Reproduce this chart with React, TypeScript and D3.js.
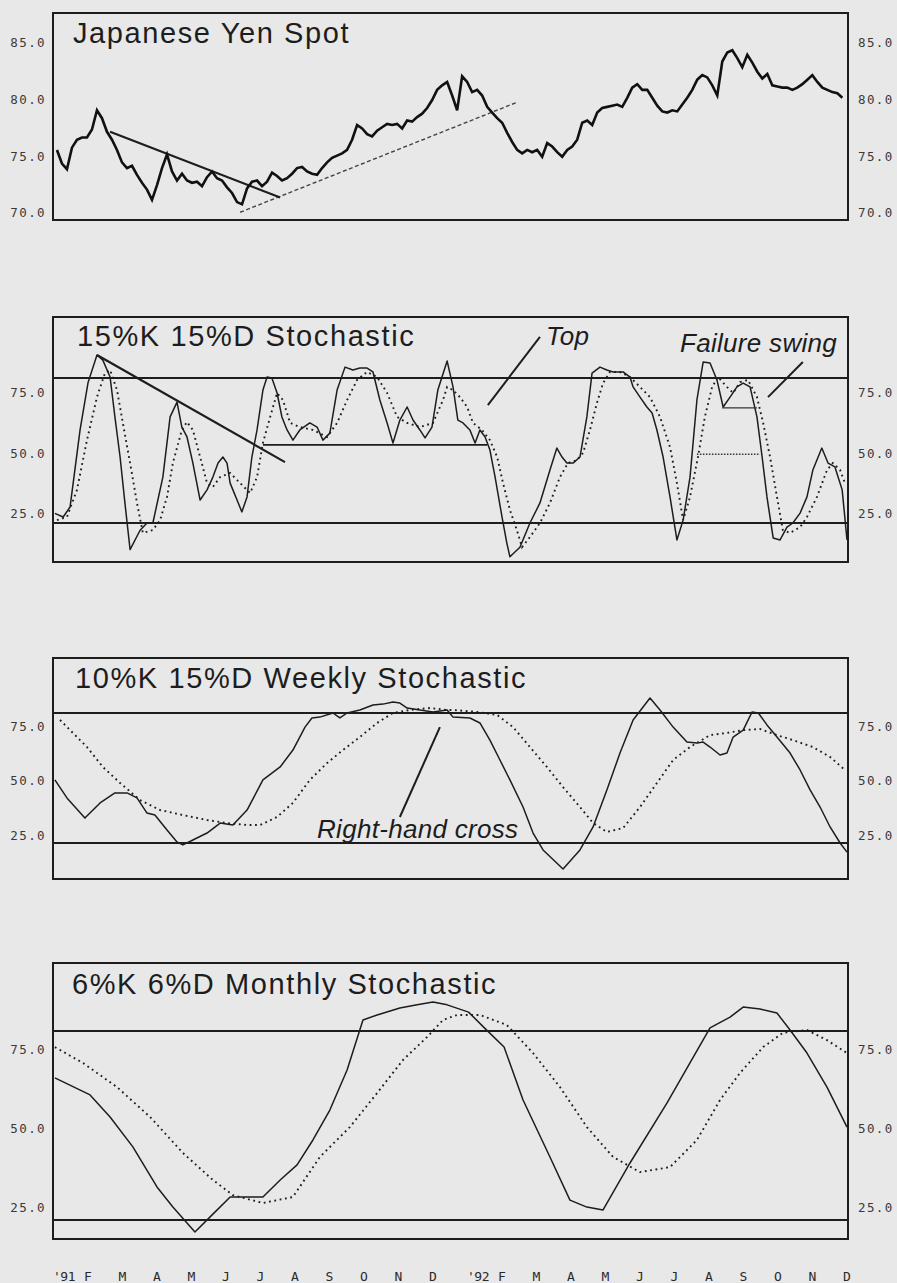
import React from 'react';
import * as d3 from 'd3';

// ---------- data ----------
const monthLabels = ["'91", 'F', 'M', 'A', 'M', 'J', 'J', 'A', 'S', 'O', 'N', 'D', "'92", 'F', 'M', 'A', 'M', 'J', 'J', 'A', 'S', 'O', 'N', 'D'];

const yenTicks = [85, 80, 75, 70];
const stochTicks = [75, 50, 25];
const stochBands = [80, 20];

// Japanese Yen spot (month index of first value and step in months)
const yenFirstMonth = 0.1;
const yenStepMonths = 0.145;
const yenClose = [
  75.3, 74.1, 73.6, 75.5, 76.2, 76.4, 76.4, 77.1, 78.8, 78.1, 76.9, 76.2, 75.3, 74.2, 73.7, 73.9, 73.1, 72.4,
  71.8, 70.9, 72.2, 73.7, 74.9, 73.4, 72.6, 73.2, 72.6, 72.4, 72.5, 72.1, 72.9, 73.4, 72.8, 72.6, 72.0, 71.5,
  70.7, 70.5, 71.9, 72.5, 72.6, 72.1, 72.5, 73.3, 73.0, 72.6, 72.8, 73.2, 73.7, 73.8, 73.4, 73.2, 73.1, 73.7,
  74.2, 74.6, 74.8, 75.0, 75.3, 76.2, 77.5, 77.2, 76.7, 76.5, 77.0, 77.3, 77.6, 77.5, 77.6, 77.2, 77.9, 77.8,
  78.2, 78.5, 79.0, 79.7, 80.6, 81.0, 81.3, 80.1, 78.8, 81.8, 81.3, 80.4, 80.6, 80.1, 79.1, 78.6, 78.1, 77.7,
  76.8, 76.0, 75.3, 75.0, 75.3, 75.1, 75.3, 74.7, 75.9, 75.6, 75.1, 74.7, 75.3, 75.6, 76.2, 77.7, 77.9, 77.5,
  78.6, 79.0, 79.1, 79.2, 79.3, 79.1, 79.9, 80.8, 81.1, 80.6, 80.6, 79.9, 79.2, 78.7, 78.6, 78.8, 78.7, 79.3,
  79.9, 80.6, 81.5, 81.9, 81.7, 81.0, 80.1, 83.1, 83.9, 84.1, 83.4, 82.6, 83.7, 83.0, 82.2, 81.6, 82.0, 81.0,
  80.9, 80.8, 80.8, 80.6, 80.8, 81.1, 81.5, 81.9, 81.3, 80.8, 80.6, 80.4, 80.3, 79.9,
];
// trend lines on yen: [month, value]
const yenDownTrend = [[1.64, 76.9], [6.57, 71.1]];
const yenUpTrend = [[5.41, 69.8], [13.43, 79.5]];

// 15%K 15%D daily stochastic
const dailyKAt = [0.04, 0.28, 0.48, 0.77, 1.0, 1.26, 1.43, 1.64, 1.78, 1.93, 2.07, 2.22, 2.51, 2.71, 2.88, 3.17, 3.38, 3.58, 3.72, 3.87, 4.04, 4.25, 4.45, 4.62, 4.77, 4.91, 5.03, 5.12, 5.2, 5.32, 5.46, 5.61, 5.75, 5.9, 6.07, 6.19, 6.33, 6.48, 6.62, 6.77, 6.94, 7.14, 7.43, 7.64, 7.81, 8.01, 8.22, 8.45, 8.68, 8.88, 9.09, 9.26, 9.46, 9.67, 9.84, 10.04, 10.25, 10.42, 10.62, 10.77, 10.97, 11.14, 11.41, 11.58, 11.72, 11.87, 12.07, 12.22, 12.36, 12.51, 12.65, 12.8, 13.0, 13.14, 13.23, 13.52, 13.81, 14.1, 14.39, 14.59, 14.74, 14.88, 15.06, 15.26, 15.46, 15.61, 15.84, 16.04, 16.22, 16.51, 16.71, 16.8, 17.0, 17.2, 17.35, 17.49, 17.67, 17.87, 18.07, 18.25, 18.45, 18.65, 18.83, 19.03, 19.23, 19.41, 19.61, 19.81, 19.99, 20.19, 20.39, 20.54, 20.68, 20.86, 21.06, 21.26, 21.43, 21.64, 21.84, 22.01, 22.27, 22.45, 22.65, 22.86, 23.0];
const dailyK = [24, 22.5, 26.6, 58.5, 78, 89.5, 87.4, 80.4, 63.9, 47.3, 28.3, 9, 17, 20, 20, 39, 63.9, 70, 59.7, 55.6, 44.8, 29.5, 33.7, 39, 44.8, 47.3, 44.8, 36.5, 33.7, 29.5, 24.6, 30.8, 47.3, 58.5, 75, 80.4, 80, 73.8, 63.9, 58.5, 54.3, 58.5, 61.4, 59.7, 54.3, 57.2, 75, 84.5, 83.3, 84.1, 84.1, 82.5, 70.9, 61.4, 53.1, 62.6, 68, 62.6, 58.5, 55.2, 59.7, 75, 87, 76.3, 62.6, 61.4, 58.5, 53.1, 58.5, 55.6, 50.2, 39, 22.5, 11.7, 6, 10, 20, 28.3, 41.9, 51, 47.3, 44.8, 44.8, 47.3, 63.9, 82, 84.5, 83.3, 82.5, 82.5, 80.4, 76.3, 72.1, 68, 65.5, 58.5, 47.3, 30.8, 13, 21.2, 39, 70.9, 86.6, 86.2, 79.2, 68, 72.1, 76.3, 77.9, 76.3, 63.9, 47.3, 30.8, 13.8, 13, 18.3, 20, 24.1, 30.8, 41.9, 51, 44.8, 43.2, 33.7, 13];
const dailyDAt = [0.1, 0.39, 0.68, 0.97, 1.26, 1.49, 1.64, 1.84, 2.01, 2.22, 2.42, 2.59, 2.88, 3.09, 3.29, 3.46, 3.72, 3.87, 4.04, 4.25, 4.45, 4.62, 4.83, 5.12, 5.41, 5.7, 5.9, 6.07, 6.28, 6.48, 6.65, 6.86, 7.14, 7.52, 7.93, 8.22, 8.51, 8.8, 9.09, 9.38, 9.67, 9.96, 10.25, 10.62, 11.0, 11.29, 11.41, 11.58, 11.78, 11.99, 12.16, 12.42, 12.65, 12.86, 13.03, 13.23, 13.43, 13.58, 13.81, 14.1, 14.39, 14.68, 14.91, 15.17, 15.35, 15.55, 15.75, 15.93, 16.13, 16.42, 16.71, 17.0, 17.29, 17.58, 17.87, 18.07, 18.25, 18.45, 18.68, 18.88, 19.09, 19.26, 19.52, 19.7, 19.9, 20.13, 20.39, 20.57, 20.77, 20.97, 21.14, 21.35, 21.64, 21.84, 22.13, 22.42, 22.59, 22.8, 22.94];
const dailyD = [21.2, 22.5, 33.7, 54.3, 72.1, 82, 83.3, 75, 61.4, 44.8, 28.3, 15.9, 17.1, 21.2, 30.8, 44.8, 58.5, 61.8, 58.5, 47.3, 36.5, 34.9, 39, 40.7, 36.5, 32.4, 39, 53.1, 63.9, 73.8, 70.9, 61.4, 59.7, 58.5, 55.6, 61.4, 70.9, 79.2, 82.5, 80.4, 73.8, 63.9, 61.4, 59.7, 61.4, 70.9, 76.3, 75, 72.1, 68, 61.4, 58.5, 54.3, 47.3, 36.5, 25.4, 17.1, 10, 14.2, 20, 28.3, 39, 44.8, 46, 49, 58.5, 69.6, 77.9, 82.5, 82.5, 80.4, 76.3, 72.1, 63.9, 51.4, 36.5, 21.2, 30.8, 47.3, 63.9, 76.3, 80.4, 76.3, 73.8, 78.3, 79.2, 72.1, 61.4, 47.3, 30.8, 17.1, 15.9, 18.3, 22.5, 30.8, 41.9, 44.8, 41.9, 36.5];
// annotation lines on daily stochastic: [month, value]
const dailyTrend = [[1.26, 89.5], [6.71, 45.2]];
const dailySupport = [[6.07, 52.3], [12.57, 52.3]];
const failureLow = [[19.38, 67.6], [20.39, 67.6]];
const failureD = [[18.65, 48.5], [20.48, 48.5]];
const topPointer = [[14.1, 97], [12.59, 68.8]];
const failurePointer = [[21.72, 86.6], [20.71, 72.1]];

// 10%K 15%D weekly stochastic
const weeklyKAt = [0.04, 0.39, 0.91, 1.35, 1.78, 2.13, 2.42, 2.71, 2.94, 3.29, 3.58, 3.75, 4.04, 4.45, 4.83, 5.2, 5.61, 6.07, 6.57, 6.94, 7.29, 7.49, 7.72, 8.1, 8.3, 8.51, 8.88, 9.26, 9.55, 9.84, 10.04, 10.25, 10.62, 11.0, 11.41, 11.58, 12.07, 12.36, 12.65, 12.94, 13.23, 13.61, 13.9, 14.19, 14.77, 15.26, 15.64, 16.04, 16.42, 16.8, 17.29, 17.58, 17.96, 18.36, 18.65, 18.83, 19.03, 19.32, 19.52, 19.7, 19.99, 20.25, 20.43, 20.68, 20.97, 21.35, 21.64, 21.93, 22.22, 22.51, 22.8, 23.0];
const weeklyK = [49.1, 40.8, 31.5, 38.5, 43.1, 43.1, 40.8, 33.8, 32.9, 26, 20.5, 19.1, 21.4, 24.6, 29.2, 28.3, 35.2, 49.1, 55.1, 62.9, 73.5, 77.7, 78.1, 80, 77.7, 80, 81.4, 83.7, 84.1, 85.1, 84.6, 82.3, 81.4, 80.5, 81.4, 78.1, 77.7, 75.4, 67.5, 58.3, 49.1, 36.6, 24.6, 16.8, 8, 16.8, 27.4, 44.5, 61.5, 76.8, 86.9, 81.4, 73.5, 66.6, 66.1, 66.6, 64.3, 60.6, 61.5, 68.9, 72.1, 80.5, 80, 74.5, 68.9, 61.5, 53.7, 44.5, 36.6, 27.4, 20, 15.8];
const weeklyDAt = [0.19, 0.48, 0.97, 1.43, 1.93, 2.51, 3.09, 3.75, 4.45, 5.03, 5.61, 5.99, 6.48, 6.94, 7.43, 7.93, 8.39, 8.88, 9.38, 9.84, 10.33, 10.91, 11.41, 11.58, 12.28, 12.86, 13.32, 13.81, 14.3, 14.77, 15.26, 15.64, 16.04, 16.51, 17.0, 17.49, 17.96, 18.45, 19.03, 19.52, 19.99, 20.48, 20.97, 21.43, 22.01, 22.51, 22.94];
const weeklyD = [76.8, 72.1, 64.3, 55.1, 47.7, 39.8, 35.2, 32.9, 30.6, 29.2, 28.3, 28.3, 32, 38.5, 49.1, 56.9, 62.9, 68.9, 75.4, 80, 81.4, 82.3, 81.4, 81.4, 80.5, 79.1, 73.5, 64.3, 55.1, 45.8, 36.6, 29.2, 25.1, 26.9, 36.6, 47.7, 58.3, 64.3, 69.8, 70.8, 72.1, 72.6, 69.8, 67.5, 64.3, 59.7, 53.7];
const crossPointer = [[11.2, 73.5], [10.04, 32.0]];

// 6%K 6%D monthly stochastic
const monthlyKAt = [0.04, 1.06, 1.64, 2.3, 3.0, 3.46, 4.1, 4.54, 5.12, 5.49, 6.07, 6.57, 7.06, 7.52, 8.01, 8.51, 8.97, 9.38, 10.04, 10.54, 11.0, 11.41, 12.03, 12.49, 13.06, 13.61, 14.39, 14.97, 15.46, 15.93, 16.71, 17.78, 19.03, 19.61, 19.99, 20.48, 20.97, 21.35, 21.84, 22.42, 23.0];
const monthlyK = [65.1, 59.7, 52.7, 43.2, 30.5, 24.1, 16.2, 21, 27.3, 27.3, 27.3, 32.7, 37.5, 45.4, 54.9, 67.6, 83.5, 85.1, 87.3, 88.3, 89.2, 88.3, 86, 81, 74.9, 58.1, 40, 26.3, 24.1, 23.2, 38.1, 57.1, 81, 84.4, 87.6, 87, 85.7, 80.3, 73, 62.2, 49.5];
const monthlyDAt = [0.04, 0.86, 1.84, 2.8, 3.75, 4.62, 5.2, 6.07, 6.94, 7.72, 8.59, 9.38, 10.13, 10.83, 11.29, 11.7, 12.36, 13.14, 13.9, 14.68, 15.46, 16.22, 17.0, 17.87, 18.65, 19.32, 19.9, 20.57, 21.14, 21.84, 22.42, 23.0];
const monthlyD = [74.9, 69.8, 62.2, 52.7, 41.3, 32.7, 27.9, 25.4, 27.3, 40, 49.5, 60.3, 70.8, 78.1, 83.5, 85.1, 85.1, 81.9, 73, 62.2, 49.5, 40, 35.2, 36.8, 45.4, 58.1, 66.7, 74.9, 79.4, 80.3, 77.1, 73];

// ---------- layout ----------
const W = 897;
const H = 1283;
const FX0 = 53;
const FX1 = 848;
const INK = '#1d1d1d';
const PAPER = '#e8e8e8';
const TITLE_FONT = '"Liberation Sans", Arial, Helvetica, sans-serif';
const MONO = '"DejaVu Sans Mono", "Liberation Mono", monospace';

const x = d3.scaleLinear().domain([0, 23]).range([53.5, 847]);

const zip = (ts: number[], vs: number[]) => vs.map((v, i) => [ts[i], v] as [number, number]);

function Frame({ id, top, bottom }: { id: string; top: number; bottom: number }) {
  return (
    <>
      <defs>
        <clipPath id={id}>
          <rect x={FX0} y={top} width={FX1 - FX0} height={bottom - top} />
        </clipPath>
      </defs>
      <rect x={FX0} y={top} width={FX1 - FX0} height={bottom - top} fill="none" stroke={INK} strokeWidth={2} />
    </>
  );
}

function TickLabels({ y, ticks }: { y: d3.ScaleLinear<number, number>; ticks: number[] }) {
  return (
    <g fontFamily={MONO} fontSize={12.5} fill="#3a3a3a" letterSpacing={1.4}>
      {ticks.map((t) => (
        <g key={t}>
          <text x={46} y={y(t) + 3} dy="0.35em" textAnchor="end">{t.toFixed(1)}</text>
          <text x={858} y={y(t) + 3} dy="0.35em" textAnchor="start">{t.toFixed(1)}</text>
        </g>
      ))}
    </g>
  );
}

function Title({ text, tx, ty }: { text: string; tx: number; ty: number }) {
  return (
    <text x={tx} y={ty} fontFamily={TITLE_FONT} fontSize={29} letterSpacing={1.6} fill={INK}>
      {text}
    </text>
  );
}

function Note({ text, tx, ty }: { text: string; tx: number; ty: number }) {
  return (
    <text x={tx} y={ty} fontFamily={TITLE_FONT} fontStyle="italic" fontSize={26} letterSpacing={0.3} fill={INK}>
      {text}
    </text>
  );
}

function StochPanel({
  id, top, bottom, y, k, d, title, titleX, titleY, children,
}: {
  id: string; top: number; bottom: number; y: d3.ScaleLinear<number, number>;
  k: [number, number][]; d: [number, number][]; title: string; titleX: number; titleY: number;
  children?: React.ReactNode;
}) {
  const line = d3.line<[number, number]>().x((p) => x(p[0])).y((p) => y(p[1]));
  return (
    <g>
      <Frame id={id} top={top} bottom={bottom} />
      {stochBands.map((b) => (
        <line key={b} x1={FX0} x2={FX1} y1={y(b)} y2={y(b)} stroke={INK} strokeWidth={2} />
      ))}
      <g clipPath={`url(#${id})`}>
        <path d={line(d) || ''} fill="none" stroke={INK} strokeWidth={1.9} strokeDasharray="1.8 3.6" />
        <path d={line(k) || ''} fill="none" stroke={INK} strokeWidth={1.5} strokeLinejoin="round" />
        {children}
      </g>
      <Title text={title} tx={titleX} ty={titleY} />
      <TickLabels y={y} ticks={stochTicks} />
    </g>
  );
}

export default function App() {
  const yYen = d3.scaleLinear().domain([70, 85]).range([210, 40]);
  const yDaily = d3.scaleLinear().domain([20, 80]).range([523, 378]);
  const yWeekly = d3.scaleLinear().domain([20, 80]).range([843, 713]);
  const yMonthly = d3.scaleLinear().domain([20, 80]).range([1220, 1031]);

  const yenPts = yenClose.map((v, i) => [yenFirstMonth + i * yenStepMonths, v] as [number, number]);
  const yenLine = d3.line<[number, number]>().x((p) => x(p[0])).y((p) => yYen(p[1]));
  const dLine = d3.line<number[]>().x((p) => x(p[0])).y((p) => yDaily(p[1]));
  const wLine = d3.line<number[]>().x((p) => x(p[0])).y((p) => yWeekly(p[1]));

  return (
    <div style={{ position: 'absolute', left: 0, top: 0, width: W, height: H, background: PAPER }}>
      <svg width={W} height={H} viewBox={`0 0 ${W} ${H}`} style={{ display: 'block' }}>
        <rect x={0} y={0} width={W} height={H} fill={PAPER} />

        {/* Yen panel */}
        <Frame id="clip-yen" top={13} bottom={220} />
        <g clipPath="url(#clip-yen)">
          <path d={yenLine(yenUpTrend as [number, number][]) || ''} fill="none" stroke="#444" strokeWidth={1.4} strokeDasharray="4 2.5" />
          <path d={yenLine(yenDownTrend as [number, number][]) || ''} fill="none" stroke={INK} strokeWidth={2.2} />
          <path d={yenLine(yenPts) || ''} fill="none" stroke="#111" strokeWidth={2.6} strokeLinejoin="miter" />
        </g>
        <Title text="Japanese Yen Spot" tx={73} ty={43} />
        <TickLabels y={yYen} ticks={yenTicks} />

        {/* Daily stochastic */}
        <StochPanel id="clip-daily" top={317} bottom={562} y={yDaily} k={zip(dailyKAt, dailyK)} d={zip(dailyDAt, dailyD)}
          title="15%K 15%D Stochastic" titleX={77} titleY={346}>
          <path d={dLine(dailyTrend) || ''} fill="none" stroke={INK} strokeWidth={2.2} />
          <path d={dLine(dailySupport) || ''} fill="none" stroke={INK} strokeWidth={1.8} />
          <path d={dLine(failureLow) || ''} fill="none" stroke="#333" strokeWidth={1.3} />
          <path d={dLine(failureD) || ''} fill="none" stroke="#333" strokeWidth={1.5} strokeDasharray="1.5 1.5" />
          <path d={dLine(topPointer) || ''} fill="none" stroke={INK} strokeWidth={2} />
          <path d={dLine(failurePointer) || ''} fill="none" stroke={INK} strokeWidth={2} />
        </StochPanel>
        <Note text="Top" tx={546} ty={345} />
        <Note text="Failure swing" tx={680} ty={352} />

        {/* Weekly stochastic */}
        <StochPanel id="clip-weekly" top={658} bottom={879} y={yWeekly} k={zip(weeklyKAt, weeklyK)} d={zip(weeklyDAt, weeklyD)}
          title="10%K 15%D Weekly Stochastic" titleX={75} titleY={688}>
          <path d={wLine(crossPointer) || ''} fill="none" stroke={INK} strokeWidth={2} />
        </StochPanel>
        <Note text="Right-hand cross" tx={317} ty={838} />

        {/* Monthly stochastic */}
        <StochPanel id="clip-monthly" top={963} bottom={1239} y={yMonthly} k={zip(monthlyKAt, monthlyK)} d={zip(monthlyDAt, monthlyD)}
          title="6%K 6%D Monthly Stochastic" titleX={72} titleY={994} />

        {/* Month axis */}
        <g fontFamily={MONO} fontSize={13} fill="#2a2a2a">
          {monthLabels.map((m, i) => (
            <text key={i} x={m.startsWith("'") ? x(i) - 0.5 : x(i)} y={1281}
              textAnchor={m.startsWith("'") ? 'start' : 'middle'} letterSpacing={m.startsWith("'") ? -0.5 : 0}>
              {m}
            </text>
          ))}
        </g>
      </svg>
    </div>
  );
}
